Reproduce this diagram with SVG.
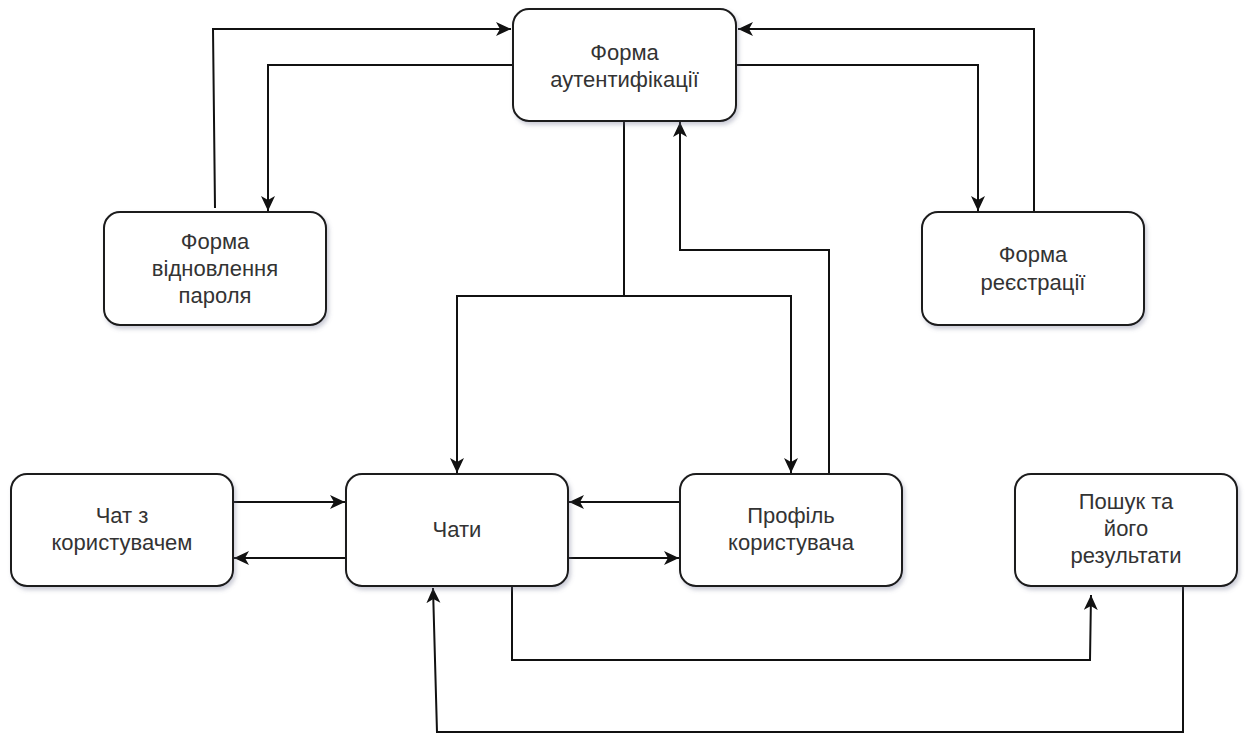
<svg xmlns="http://www.w3.org/2000/svg" width="1246" height="734" viewBox="0 0 1246 734">
  <style>
    .box { fill: #ffffff; stroke: #1a1a1a; stroke-width: 2; filter: url(#shadow); }
    .lbl { font-family: "Liberation Sans", Arial, sans-serif; font-size: 22px; fill: #333333; text-anchor: middle; }
    .edge { fill: none; stroke: #111111; stroke-width: 2; }
    .arr { marker-end: url(#arrow); }
  </style>
  <defs>
    <filter id="shadow" x="-10%" y="-10%" width="125%" height="135%">
      <feDropShadow dx="2" dy="3" stdDeviation="2" flood-color="#6a6f8a" flood-opacity="0.35"/>
    </filter>
    <marker id="arrow" markerUnits="userSpaceOnUse" markerWidth="16" markerHeight="16" refX="15" refY="7" orient="auto">
      <path d="M0,0 L15,7 L0,14 L4,7 Z" fill="#111111"/>
    </marker>
  </defs>
  <rect width="1246" height="734" fill="#ffffff"/>

  <g id="connectors">
    <!-- password form <-> authentication form -->
    <path class="edge arr" d="M215,208 L213,29 L511,29"/>
    <path class="edge arr" d="M513,65 L268,65 L268,211"/>
    <!-- authentication form <-> registration form -->
    <path class="edge arr" d="M736,65 L978,65 L978,211"/>
    <path class="edge arr" d="M1034,212 L1034,29 L738,29"/>
    <!-- authentication form -> chats / profile -->
    <path class="edge" d="M624,121 L624,296"/>
    <path class="edge arr" d="M624,296 L457,296 L457,473"/>
    <path class="edge arr" d="M624,296 L791,296 L791,473"/>
    <!-- profile -> authentication form -->
    <path class="edge arr" d="M829,474 L829,250 L680,250 L680,122"/>
    <!-- chat with user <-> chats -->
    <path class="edge arr" d="M233,502 L345,502"/>
    <path class="edge arr" d="M346,558 L234,558"/>
    <!-- profile <-> chats -->
    <path class="edge arr" d="M680,502 L569,502"/>
    <path class="edge arr" d="M568,558 L679,558"/>
    <!-- chats -> search -->
    <path class="edge arr" d="M512,586 L512,660 L1090,660 L1091,595"/>
    <!-- search -> chats -->
    <path class="edge arr" d="M1183,586 L1183,732 L437,732 L433,588"/>
  </g>

  <g id="auth-form">
    <rect class="box" x="513" y="9" width="223" height="112" rx="16"/>
    <text class="lbl" x="624.5" y="60">Форма</text>
    <text class="lbl" x="624.5" y="87">аутентифікації</text>
  </g>

  <g id="password-form">
    <rect class="box" x="104" y="212" width="222" height="113" rx="16"/>
    <text class="lbl" x="215" y="249">Форма</text>
    <text class="lbl" x="215" y="276">відновлення</text>
    <text class="lbl" x="215" y="303">пароля</text>
  </g>

  <g id="registration-form">
    <rect class="box" x="922" y="212" width="222" height="113" rx="16"/>
    <text class="lbl" x="1033" y="262">Форма</text>
    <text class="lbl" x="1033" y="290">реєстрації</text>
  </g>

  <g id="chat-with-user">
    <rect class="box" x="11" y="474" width="222" height="112" rx="16"/>
    <text class="lbl" x="122" y="523">Чат з</text>
    <text class="lbl" x="122" y="550">користувачем</text>
  </g>

  <g id="chats">
    <rect class="box" x="346" y="474" width="222" height="112" rx="16"/>
    <text class="lbl" x="457" y="537">Чати</text>
  </g>

  <g id="user-profile">
    <rect class="box" x="680" y="474" width="222" height="112" rx="16"/>
    <text class="lbl" x="791" y="523">Профіль</text>
    <text class="lbl" x="791" y="550">користувача</text>
  </g>

  <g id="search">
    <rect class="box" x="1015" y="474" width="222" height="112" rx="16"/>
    <text class="lbl" x="1126" y="509">Пошук та</text>
    <text class="lbl" x="1126" y="536">його</text>
    <text class="lbl" x="1126" y="563">результати</text>
  </g>
</svg>
